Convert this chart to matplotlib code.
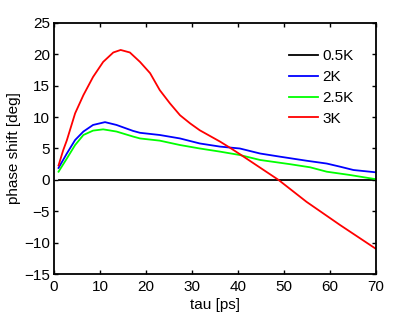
import numpy as np
import matplotlib.pyplot as plt

plt.rcParams['font.family'] = ['Liberation Sans', 'DejaVu Sans']
plt.rcParams['font.size'] = 11

# Data
tau_k05 = [1, 70]
shift_k05 = [0, 0]

tau_k2 = [1, 2.8, 4.6, 6.4, 8.5, 11.1, 13.6, 17.2, 18.7, 23, 27.4, 31.7, 36.1,
          40.4, 44.8, 49.1, 54.9, 59.3, 62.2, 65.1, 70]
shift_k2 = [1.9, 4.2, 6.35, 7.7, 8.75, 9.2, 8.75, 7.8, 7.5, 7.15, 6.6, 5.8, 5.3,
            5.0, 4.2, 3.7, 3.05, 2.6, 2.1, 1.57, 1.2]

tau_k25 = [1, 2.8, 4.6, 6.4, 8.5, 10.7, 13.6, 17.2, 18.7, 23, 27.4, 31.7, 36.1,
           40.4, 44.8, 51.3, 55.7, 59.3, 64.3, 70]
shift_k25 = [1.3, 3.4, 5.55, 7.15, 7.85, 8.05, 7.7, 6.9, 6.6, 6.25, 5.55, 5.0, 4.5,
             3.96, 3.17, 2.5, 2.0, 1.3, 0.78, 0.1]

tau_k3 = [1, 2.0, 2.8, 4.6, 6.4, 8.5, 10.7, 12.9, 14.5, 16.5, 18.7, 20.9, 23.0,
          25.2, 27.4, 29.6, 31.7, 33.9, 36.1, 38.3, 40.4, 48.8, 54.9, 62.2, 70]
shift_k3 = [2.3, 4.7, 6.3, 10.6, 13.5, 16.4, 18.8, 20.3, 20.7, 20.3, 18.8, 17.0, 14.3,
            12.2, 10.3, 9.0, 7.9, 7.0, 6.1, 5.1, 4.1, 0.0, -3.5, -7.2, -11.0]

fig = plt.figure(figsize=(4.15, 3.13), dpi=100)
ax = fig.add_axes([0.130, 0.1246, 0.776, 0.802])

ax.plot(tau_k05, shift_k05, color="black", lw=1.3, label="0.5K")
ax.plot(tau_k2, shift_k2, color="#0000ff", lw=1.3, label="2K")
ax.plot(tau_k25, shift_k25, color="#00ff00", lw=1.3, label="2.5K")
ax.plot(tau_k3, shift_k3, color="#ff0000", lw=1.3, label="3K")

ax.set_xlim(0, 70)
ax.set_ylim(-15, 25)
ax.set_xticks(np.arange(0, 71, 10))
ax.set_yticks(np.arange(-15, 26, 5))
ax.set_xlabel("tau [ps]", labelpad=3)
ax.set_ylabel("phase shift [deg]", labelpad=2)
ax.tick_params(direction="in", top=True, right=True, length=3, width=1, pad=4)
ax.tick_params(axis="y", pad=3)
for s in ax.spines.values():
    s.set_linewidth(1.3)

ax.legend(loc="upper right", frameon=False, handlelength=1.9, handletextpad=0.3,
          labelspacing=0.45, bbox_to_anchor=(0.95, 0.92), borderaxespad=0)

plt.savefig("out.png", dpi=100)
